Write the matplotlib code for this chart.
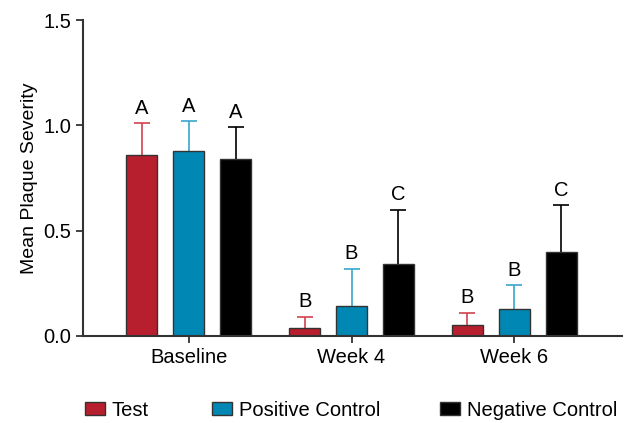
import numpy as np
import matplotlib.pyplot as plt

plt.rcParams['font.family'] = ['Liberation Sans', 'DejaVu Sans']

groups = ["Baseline", "Week 4", "Week 6"]
series = ["Test", "Positive Control", "Negative Control"]
means = {
    "Test": [0.86, 0.04, 0.05],
    "Positive Control": [0.88, 0.14, 0.13],
    "Negative Control": [0.84, 0.34, 0.40],
}
errs = {
    "Test": [0.15, 0.05, 0.06],
    "Positive Control": [0.14, 0.18, 0.11],
    "Negative Control": [0.15, 0.26, 0.22],
}
letters = {
    "Test": ["A", "B", "B"],
    "Positive Control": ["A", "B", "B"],
    "Negative Control": ["A", "C", "C"],
}

bar_colors = {"Test": "#b81f2e", "Positive Control": "#0087b4", "Negative Control": "#000000"}
err_colors = {"Test": "#d2424f", "Positive Control": "#3aa6cb", "Negative Control": "#000000"}

fs = 14.5

fig = plt.figure(figsize=(6.32, 4.23), dpi=100)
ax = fig.add_axes([0.131, 0.2057, 0.853, 0.747])

x = np.arange(len(groups))
width = 0.19
offsets = [-0.288, 0.0, 0.288]

handles = []
for s, off in zip(series, offsets):
    xs = x + off
    b = ax.bar(xs, means[s], width, color=bar_colors[s], edgecolor="#333333",
               linewidth=1.0, label=s, zorder=2)
    handles.append(b)
    # symmetric bars drawn behind, so only the upper half shows
    ax.errorbar(xs, means[s], yerr=errs[s], fmt="none",
                ecolor=err_colors[s], elinewidth=1.2, capsize=5.5, capthick=1.2, zorder=1)
    for xi, m, e, lab in zip(xs, means[s], errs[s], letters[s]):
        ax.annotate(lab, (xi, m + e), xytext=(0, 4), textcoords="offset points",
                    ha="center", va="bottom", fontsize=fs)

ax.set_xlim(-0.65, 2.66)
ax.set_ylim(0, 1.5)
ax.set_yticks([0, 0.5, 1.0, 1.5])
ax.set_yticklabels(["0.0", "0.5", "1.0", "1.5"])
ax.set_xticks(x)
ax.set_xticklabels(groups)
ax.tick_params(axis="both", labelsize=fs, width=1.3, length=5, color="#333333")
ax.set_ylabel("Mean Plaque Severity", fontsize=14)

for side in ["top", "right"]:
    ax.spines[side].set_visible(False)
for side in ["left", "bottom"]:
    ax.spines[side].set_linewidth(1.5)
    ax.spines[side].set_color("#333333")

# legend entries placed one by one along the bottom
leg_x = [0.134, 0.335, 0.696]
for h, s, lx in zip(handles, series, leg_x):
    leg = fig.legend([h], [s], loc="center left", bbox_to_anchor=(lx, 0.03),
                     frameon=False, fontsize=fs, handlelength=1.0, handleheight=0.6,
                     handletextpad=0.35, borderpad=0, borderaxespad=0)

fig.savefig("out.png", dpi=100)
